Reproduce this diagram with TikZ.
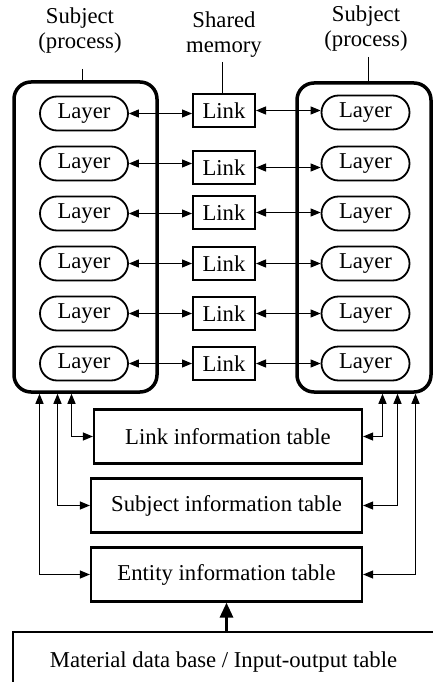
\documentclass[tikz,border=0pt]{standalone}
\usepackage{fontspec}
\setmainfont{Liberation Serif}
\usetikzlibrary{arrows.meta}
\begin{document}
\begin{tikzpicture}[x=1pt,y=-1pt,
  font=\fontsize{22.7}{25}\selectfont,
  subj/.style={draw,line width=3.5pt,rounded corners=17pt,inner sep=0pt},
  layer/.style={draw,line width=1.8pt,rounded corners=17pt,minimum width=88pt,minimum height=34pt,inner sep=0pt},
  linkbox/.style={draw,line width=2pt,minimum width=62pt,minimum height=33pt,inner sep=0pt},
  tbl/.style={draw,line width=2.2pt,inner sep=0pt},
  conn/.style={line width=1.1pt,{Triangle[length=10pt,width=8pt]}-{Triangle[length=10pt,width=8pt]}},
  tick/.style={line width=1.1pt},
  lbl/.style={align=center,inner sep=0pt}
]
\useasboundingbox (0,0) rectangle (433,682);
\clip (0,0) rectangle (433,682);

% subject (process) frames
\node[subj,minimum width=143pt,minimum height=310pt] (SL) at (85.5,237) {};
\node[subj,minimum width=134pt,minimum height=309pt] (SR) at (364,237.5) {};

% headings
\node[lbl] (lblL) at (80,30.5) {Subject\\(process)};
\node[lbl] (lblM) at (224,34.5) {Shared\\memory};
\node[lbl] (lblR) at (366,28.5) {Subject\\(process)};

% layers and shared-memory links
\foreach \i/\ly/\ky/\ry in {1/113.5/110.5/112.5, 2/163.5/167.5/163.5, 3/213.5/212.5/213.5,
                            4/263.5/263.5/263.5, 5/313.5/313.5/313.5, 6/363.5/363.5/363.5} {
  \node[layer] (L\i) at (84,\ly) {Layer};
  \node[linkbox] (K\i) at (224,\ky) {Link};
  \node[layer] (R\i) at (365.5,\ry) {Layer};
  \draw[conn] (L\i.east) -- (L\i.east -| K\i.west);
  \draw[conn] (K\i.east) -- (K\i.east -| R\i.west);
}

% pointer lines from the headings
\coordinate (pL) at (82.5,69);
\coordinate (pM) at (222.5,62);
\coordinate (pR) at (368.5,57);
\draw[tick] (pL) -- (pL |- SL.north);
\draw[tick] (pM) -- (pM |- K1.north);
\draw[tick] (pR) -- (pR |- SR.north);

% information tables
\node[tbl,minimum width=268pt,minimum height=54pt] (LT) at (228,436.5) {Link information table};
\node[tbl,minimum width=271pt,minimum height=54pt] (ST) at (226.5,505.5) {Subject information table};
\node[tbl,minimum width=271pt,minimum height=54pt] (ET) at (226.5,574.5) {Entity information table};

% table access from both subjects
\draw[conn] ([xshift=59.25pt]SL.south west) |- (LT.west);
\draw[conn] ([xshift=45.25pt]SL.south west) |- (ST.west);
\draw[conn] ([xshift=27.25pt]SL.south west) |- (ET.west);
\draw[conn] ([xshift=-50.25pt]SR.south east) |- (LT.east);
\draw[conn] ([xshift=-35.25pt]SR.south east) |- (ST.east);
\draw[conn] ([xshift=-17.25pt]SR.south east) |- (ET.east);

% source data
\node[draw,line width=1.2pt,minimum width=421pt,minimum height=60pt,inner sep=0pt] (MD) at (223.5,662)
  {Material data base / Input-output table};
\draw[line width=3pt,-{Triangle[length=15pt,width=13pt]}] (ET.south |- MD.north) -- (ET.south);
\end{tikzpicture}
\end{document}
